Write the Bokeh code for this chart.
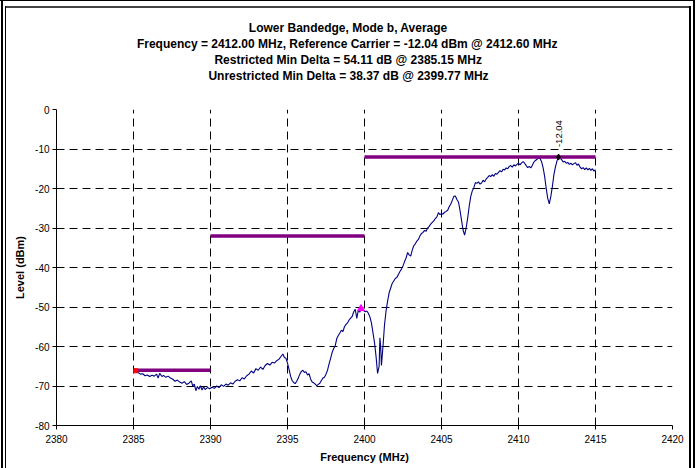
import numpy as np
from bokeh.plotting import figure
from bokeh.models import Range1d, Title
from bokeh.core.properties import value
from bokeh.embed import file_html
from bokeh.resources import INLINE

# ---------------- data ----------------
title_lines = [
    "Lower Bandedge, Mode b, Average",
    "Frequency = 2412.00 MHz, Reference Carrier = -12.04 dBm @ 2412.60 MHz",
    "Restricted Min Delta = 54.11 dB @ 2385.15 MHz",
    "Unrestricted Min Delta = 38.37 dB @ 2399.77 MHz",
]
x_label = "Frequency (MHz)"
y_label = "Level (dBm)"

freq_mhz = [
    2385.0, 2385.15, 2385.3, 2385.45, 2385.6, 2385.75, 2385.9, 2386.05, 2386.2, 2386.35,
    2386.5, 2386.6, 2386.7, 2386.85, 2386.95, 2387.1, 2387.25, 2387.4, 2387.55, 2387.7,
    2387.85, 2388.0, 2388.15, 2388.3, 2388.45, 2388.6, 2388.75, 2388.85, 2388.95, 2389.05,
    2389.15, 2389.25, 2389.35, 2389.45, 2389.55, 2389.65, 2389.8, 2389.95,
    2390.1, 2390.25, 2390.4, 2390.55, 2390.7, 2390.85, 2391.0, 2391.15, 2391.3, 2391.45,
    2391.6, 2391.75, 2391.9, 2392.05, 2392.2, 2392.35, 2392.5, 2392.65, 2392.8, 2392.95,
    2393.1, 2393.25, 2393.4, 2393.55, 2393.7, 2393.85, 2394.0, 2394.15, 2394.3, 2394.45,
    2394.6, 2394.7, 2394.8, 2394.9, 2395.0, 2395.1, 2395.2, 2395.3, 2395.4, 2395.5,
    2395.6, 2395.7, 2395.8, 2395.9, 2396.0, 2396.1, 2396.2, 2396.3, 2396.4, 2396.5,
    2396.6, 2396.7, 2396.8, 2396.9, 2397.0, 2397.1, 2397.2, 2397.3, 2397.4, 2397.5,
    2397.6, 2397.7, 2397.8, 2397.9, 2398.0, 2398.1, 2398.2, 2398.3, 2398.4, 2398.5,
    2398.6, 2398.7, 2398.8, 2398.9, 2399.0, 2399.1, 2399.2, 2399.3, 2399.4, 2399.5,
    2399.6, 2399.7, 2399.77, 2399.85, 2399.95, 2400.05, 2400.15, 2400.25, 2400.35, 2400.45,
    2400.55, 2400.65, 2400.75, 2400.85, 2400.95, 2401.0, 2401.05, 2401.1, 2401.2, 2401.3,
    2401.4, 2401.5, 2401.6, 2401.7, 2401.8, 2401.9, 2402.0, 2402.1, 2402.2, 2402.3,
    2402.4, 2402.5, 2402.6, 2402.7, 2402.8, 2402.9, 2403.0, 2403.1, 2403.2, 2403.3,
    2403.4, 2403.5, 2403.6, 2403.7, 2403.8, 2403.9, 2404.0, 2404.1, 2404.2, 2404.3,
    2404.4, 2404.5, 2404.6, 2404.7, 2404.8, 2404.9, 2405.0, 2405.1, 2405.2, 2405.3,
    2405.4, 2405.5, 2405.6, 2405.7, 2405.8, 2405.9, 2406.0, 2406.1, 2406.2, 2406.3,
    2406.4, 2406.5, 2406.6, 2406.7, 2406.8, 2406.9, 2407.0, 2407.1, 2407.2, 2407.3,
    2407.4, 2407.5, 2407.6, 2407.7, 2407.8, 2407.9, 2408.0, 2408.1, 2408.2, 2408.3,
    2408.4, 2408.5, 2408.6, 2408.7, 2408.8, 2408.9, 2409.0, 2409.1, 2409.2, 2409.3,
    2409.4, 2409.5, 2409.6, 2409.7, 2409.8, 2409.9, 2410.0, 2410.1, 2410.2, 2410.3,
    2410.4, 2410.5, 2410.6, 2410.7, 2410.8, 2410.9, 2411.0, 2411.1, 2411.2, 2411.3,
    2411.4, 2411.5, 2411.6, 2411.7, 2411.8, 2411.9, 2412.0, 2412.1, 2412.2, 2412.3,
    2412.4, 2412.5, 2412.6, 2412.7, 2412.8, 2412.9, 2413.0, 2413.1, 2413.2, 2413.3,
    2413.4, 2413.5, 2413.6, 2413.7, 2413.8, 2413.9, 2414.0, 2414.1, 2414.2, 2414.3,
    2414.4, 2414.5, 2414.6, 2414.7, 2414.8, 2414.9, 2415.0,
]
level_dbm = [
    -66.0, -66.2, -66.6, -67.0, -66.9, -67.4, -67.2, -67.6, -67.3, -67.5,
    -67.0, -68.0, -66.8, -67.6, -67.3, -67.8, -67.5, -68.0, -68.3, -68.8,
    -68.5, -69.0, -69.3, -68.9, -69.6, -69.3, -68.7, -70.0, -69.5, -71.2,
    -70.1, -70.8, -69.9, -71.0, -70.2, -70.9, -70.4, -70.7,
    -70.3, -70.6, -70.0, -70.4, -69.7, -70.1, -69.5, -69.8, -69.2, -69.5,
    -68.8, -68.4, -68.7, -67.9, -68.2, -67.4, -67.0, -66.2, -66.7, -65.6,
    -66.0, -65.2, -65.8, -64.8, -64.3, -64.7, -64.0, -64.2, -63.6, -63.2,
    -62.4, -61.9, -62.8, -63.0, -64.2, -65.8, -67.5, -68.6, -69.1, -69.4,
    -68.8, -68.0, -67.0, -66.3, -66.0, -66.6, -66.4, -67.2, -66.9, -68.2,
    -69.0, -69.2, -69.5, -69.9, -69.6, -69.3, -68.6, -68.0, -67.8, -67.0,
    -66.0, -64.4, -63.0, -61.5, -60.5, -59.8, -58.0, -57.2, -56.6, -55.9,
    -56.2, -55.0, -54.4, -54.0, -53.3, -52.8, -52.4, -51.2, -50.6, -52.9,
    -50.8, -51.3, -50.4, -50.6, -50.9, -51.2, -51.0, -51.6, -52.5, -54.0,
    -56.5, -59.0, -62.5, -66.8, -65.0, -57.8, -60.0, -64.8, -60.0, -54.5,
    -51.0, -48.5, -46.4, -45.2, -44.0, -43.4, -42.8, -42.5, -41.8, -41.0,
    -40.4, -39.6, -38.5, -37.6, -36.2, -36.8, -37.1, -35.6, -34.5, -34.0,
    -33.3, -32.9, -32.0, -31.4, -31.1, -30.6, -30.8, -30.0, -29.6, -29.0,
    -28.6, -28.2, -27.6, -27.2, -26.1, -26.6, -26.3, -26.5, -26.0, -25.8,
    -25.5, -24.6, -24.0, -23.0, -22.0, -21.9, -22.8, -23.4, -25.5, -28.0,
    -30.5, -31.8, -30.0, -27.5, -24.5, -22.0, -20.6, -19.8, -18.5, -18.7,
    -18.3, -18.9, -18.6, -17.9, -18.3, -17.6, -17.2, -16.7, -17.0, -16.5,
    -16.9, -16.2, -16.4, -15.9, -15.5, -15.8, -15.1, -15.3, -14.8, -15.0,
    -14.4, -14.2, -14.6, -14.0, -14.3, -13.9, -13.6, -14.0, -13.5, -13.2,
    -13.6, -14.2, -14.7, -14.4, -14.8, -14.1, -13.3, -12.9, -12.6, -12.3,
    -12.4, -13.2, -14.8, -17.0, -20.0, -22.5, -23.9, -22.0, -19.5, -16.5,
    -14.5, -13.0, -12.04, -12.3, -12.7, -13.3, -13.1, -13.6, -13.4, -13.9,
    -13.6, -14.0, -13.7, -13.5, -14.1, -13.8, -14.6, -15.0, -14.7, -15.2,
    -14.8, -15.3, -14.9, -15.4, -15.0, -15.6, -15.2,
]

limit_start = [2385, 2390, 2400]
limit_end = [2390, 2400, 2415]
limit_level = [-66, -32, -12]

restricted_min_freq = [2385.15]
restricted_min_level = [-66.15]
unrestricted_min_freq = [2399.77]
unrestricted_min_level = [-50.41]
carrier_freq = [2412.60]
carrier_level = [-12.04]
carrier_text = ["-12.04"]

x_ticks = [2380, 2385, 2390, 2395, 2400, 2405, 2410, 2415, 2420]
x_tick_labels = ["2380", "2385", "2390", "2395", "2400", "2405", "2410", "2415", "2420"]
y_ticks = [-80, -70, -60, -50, -40, -30, -20, -10, 0]
y_tick_labels = ["-80", "-70", "-60", "-50", "-40", "-30", "-20", "-10", "0"]

# ---------------- style / layout ----------------
FONT = "Liberation Sans"
W, H = 696, 468
BORDER_L, BORDER_R, BORDER_T, BORDER_B = 56, 24, 109, 43
TITLE_PX = 12
TITLE_CENTER = W / 2
TITLE_GAP = 11   # extra standoff of the blank spacer between titles and plot area

# Arial/Liberation Sans Bold advance widths (1/1000 em) for centring the title lines
_BOLD_W = {" ": 278, "(": 333, ")": 333, ",": 278, "-": 333, ".": 278, "=": 584,
           "@": 975, "A": 722, "B": 722, "C": 722, "D": 722, "F": 611, "H": 722,
           "L": 611, "M": 833, "R": 722, "U": 722, "a": 556, "b": 611, "c": 556,
           "d": 611, "e": 556, "g": 611, "i": 278, "l": 278, "m": 889, "n": 611,
           "o": 611, "q": 611, "r": 389, "s": 556, "t": 333, "u": 611, "v": 556,
           "w": 778, "y": 556, "z": 500}


def bold_width(s, px):
    return sum(_BOLD_W.get(c, 556) for c in s) * px / 1000.0


p = figure(width=W, height=H, output_backend="svg", toolbar_location=None,
           title=None,
           x_range=Range1d(x_ticks[0], x_ticks[-1]),
           y_range=Range1d(y_ticks[0], y_ticks[-1]),
           min_border_left=BORDER_L, min_border_right=BORDER_R,
           min_border_top=BORDER_T, min_border_bottom=BORDER_B)
p.background_fill_color = "white"
p.border_fill_color = None
p.outline_line_color = None

# double frame around the chart (drawn as page background behind the canvas)
p.styles = {
    "background-color": "white",
    "background-image": ", ".join(["linear-gradient(#000, #000)"] * 5
                                  + ["linear-gradient(#444, #444)"]),
    "background-repeat": "no-repeat",
    "background-position": "1px 0px, 5px 6px, 0px 0px, 689px 6px, 693px 0px, 5px 6px",
    "background-size": "2px 100%, 1px 100%, 695px 1px, 2px 100%, 2px 100%, 686px 2px",
}

# axes
for ax in (p.xaxis[0], p.yaxis[0]):
    ax.major_tick_out = 4
    ax.major_tick_in = 0
    ax.minor_tick_out = 0
    ax.minor_tick_in = 0
    ax.axis_line_color = "black"
    ax.major_tick_line_color = "black"
    ax.major_label_text_font = FONT
    ax.major_label_text_font_size = "10px"
    ax.major_label_text_color = "black"
    ax.axis_label_text_font = FONT
    ax.axis_label_text_font_size = "11px"
    ax.axis_label_text_font_style = "bold"
    ax.axis_label_text_color = "black"

p.xaxis.ticker = x_ticks
p.yaxis.ticker = y_ticks
p.xaxis.major_label_overrides = {t: s for t, s in zip(x_ticks, x_tick_labels)}
p.yaxis.major_label_overrides = {t: s for t, s in zip(y_ticks, y_tick_labels)}
p.xaxis.axis_label = x_label
p.yaxis.axis_label = y_label
p.xaxis.major_label_standoff = 5
p.xaxis.axis_label_standoff = 5
p.yaxis.major_label_standoff = 3
p.yaxis.axis_label_standoff = 6

# grid
for g in (p.xgrid[0], p.ygrid[0]):
    g.grid_line_color = "black"
    g.grid_line_dash = "8 5"
    g.grid_line_width = 1

# trace
p.line(freq_mhz, level_dbm, line_color="#000080", line_width=1.1)

# limit lines
p.segment(x0=limit_start, y0=limit_level, x1=limit_end, y1=limit_level,
          line_color="#800080", line_width=3.5)

# markers
p.scatter(restricted_min_freq, restricted_min_level, marker="square", size=4,
          fill_color="red", line_color="red")
p.scatter(unrestricted_min_freq, unrestricted_min_level, marker="triangle", size=7,
          fill_color="#FF00FF", line_color="#FF00FF")
p.scatter(carrier_freq, carrier_level, marker="diamond", size=6,
          fill_color="black", line_color="black")
p.text(x=carrier_freq, y=carrier_level, text=carrier_text, angle=np.pi / 2,
       y_offset=-10, text_align="left", text_baseline="middle",
       text_font=value(FONT), text_font_size="9.5px", text_color="black")

# blank spacer panel between the plot area and the title block
p.add_layout(Title(text=" ", standoff=TITLE_GAP, text_font=FONT,
                   text_font_size=f"{TITLE_PX}px", text_color="white"), "above")

# title lines, innermost first, each centred over the whole chart
for line in reversed(title_lines):
    off = TITLE_CENTER - BORDER_L - bold_width(line, TITLE_PX) / 2
    p.add_layout(Title(text=line, align="left", offset=off, standoff=0,
                       text_font=FONT, text_font_size=f"{TITLE_PX}px",
                       text_font_style="bold", text_color="black"), "above")

open("out.html", "w").write(file_html(p, INLINE))
